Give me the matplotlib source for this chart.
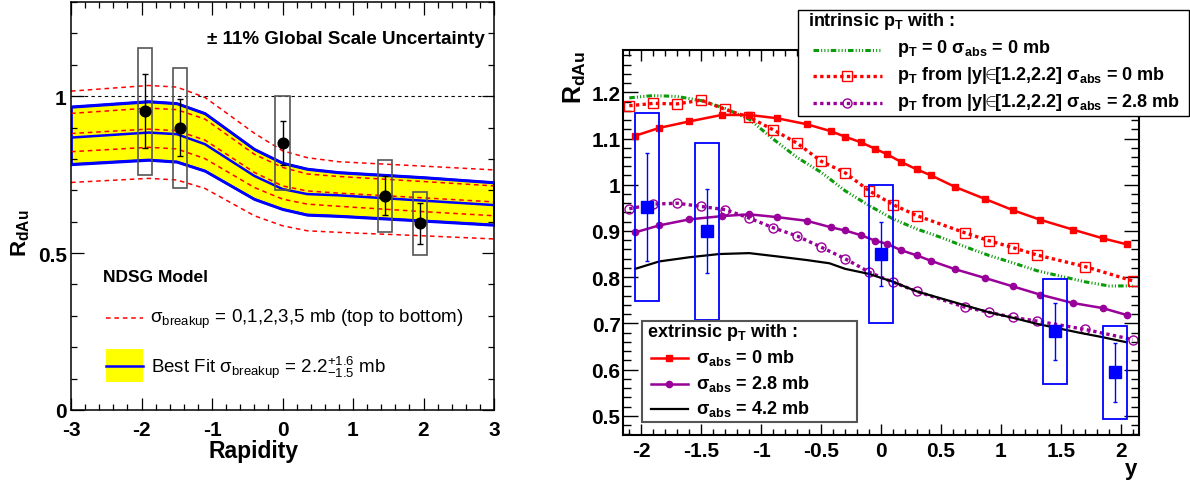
import numpy as np
import matplotlib
matplotlib.use('Agg')
import matplotlib.pyplot as plt
from matplotlib.patches import Rectangle
from matplotlib.ticker import MultipleLocator, FuncFormatter

plt.rcParams['font.family'] = ['Liberation Sans', 'DejaVu Sans']
plt.rcParams['mathtext.fontset'] = 'custom'
plt.rcParams['mathtext.rm'] = 'Liberation Sans'
plt.rcParams['mathtext.bf'] = 'Liberation Sans:bold'
plt.rcParams['mathtext.it'] = 'Liberation Sans:italic'

# measured points (shared by both panels)
y_pts = [-1.95, -1.45, 0.0, 1.45, 1.95]
r_pts = [0.952, 0.899, 0.850, 0.683, 0.595]
stat_hi = [1.069, 0.991, 0.920, 0.744, 0.658]
stat_lo = [0.835, 0.809, 0.780, 0.620, 0.530]
sys_hi = [1.155, 1.090, 1.000, 0.797, 0.694]
sys_lo = [0.749, 0.707, 0.700, 0.568, 0.494]

# left panel: NDSG model curves
lx = [-3.0, -1.9, -1.5, -1.1, -0.4, 0.0, 0.35, 0.8, 2.0, 3.0]
brk0 = [1.016, 1.034, 1.029, 0.996, 0.882, 0.826, 0.804, 0.791, 0.777, 0.765]
brk1 = [0.945, 0.962, 0.957, 0.927, 0.815, 0.773, 0.752, 0.744, 0.728, 0.714]
brk2 = [0.881, 0.895, 0.890, 0.860, 0.757, 0.714, 0.698, 0.691, 0.676, 0.663]
brk3 = [0.823, 0.837, 0.832, 0.801, 0.709, 0.672, 0.656, 0.649, 0.632, 0.619]
brk5 = [0.725, 0.738, 0.733, 0.706, 0.619, 0.587, 0.571, 0.566, 0.555, 0.545]
fit_hi = [0.966, 0.983, 0.977, 0.945, 0.831, 0.787, 0.768, 0.757, 0.741, 0.725]
fit_mid = [0.868, 0.884, 0.879, 0.847, 0.746, 0.704, 0.688, 0.684, 0.667, 0.653]
fit_lo = [0.783, 0.797, 0.791, 0.762, 0.672, 0.640, 0.622, 0.618, 0.603, 0.590]

# right panel: extrinsic pT curves
ext_x = [-2.05, -1.85, -1.6, -1.33, -1.1, -0.87, -0.62, -0.42, -0.3, -0.17, -0.05,
         0.05, 0.17, 0.3, 0.42, 0.62, 0.87, 1.1, 1.33, 1.6, 1.85, 2.05]
ext_s0 = [1.106, 1.123, 1.137, 1.151, 1.151, 1.144, 1.131, 1.116, 1.104, 1.092, 1.078,
          1.066, 1.049, 1.033, 1.020, 0.995, 0.969, 0.945, 0.924, 0.903, 0.884, 0.871]
ext_s28 = [0.897, 0.912, 0.925, 0.932, 0.936, 0.930, 0.922, 0.908, 0.901, 0.891, 0.879,
           0.872, 0.858, 0.847, 0.835, 0.817, 0.798, 0.780, 0.762, 0.744, 0.733, 0.718]
blk_x = [-2.05, -1.85, -1.6, -1.35, -1.1, -0.87, -0.62, -0.43, -0.3, -0.1, 0.1, 0.3,
         0.7, 0.9, 1.1, 1.3, 1.65, 1.85, 2.05]
ext_s42 = [0.818, 0.834, 0.843, 0.850, 0.852, 0.845, 0.837, 0.830, 0.818, 0.807, 0.790, 0.769,
           0.739, 0.724, 0.712, 0.699, 0.680, 0.670, 0.659]

# right panel: intrinsic pT curves
grn_x = [-2.1, -1.9, -1.7, -1.5, -1.3, -1.1, -0.9, -0.7, -0.5, -0.3, -0.1,
         0.1, 0.3, 0.5, 0.7, 0.9, 1.1, 1.3, 1.5, 1.7, 1.9, 2.1]
grn_y = [1.188, 1.193, 1.191, 1.182, 1.165, 1.142, 1.099, 1.059, 1.027, 0.987, 0.955,
         0.926, 0.904, 0.886, 0.866, 0.847, 0.831, 0.814, 0.802, 0.790, 0.781, 0.781]
int_x = [-2.1, -1.9, -1.7, -1.5, -1.3, -1.1, -0.9, -0.7, -0.5, -0.3, -0.1,
         0.1, 0.3, 0.7, 0.9, 1.1, 1.3, 1.7, 2.1]
int_s0 = [1.171, 1.176, 1.175, 1.183, 1.163, 1.146, 1.119, 1.090, 1.051, 1.026, 0.987,
          0.957, 0.933, 0.896, 0.879, 0.864, 0.848, 0.823, 0.792]
int_s28 = [0.948, 0.958, 0.960, 0.953, 0.946, 0.928, 0.907, 0.889, 0.865, 0.840, 0.811,
           0.789, 0.769, 0.735, 0.724, 0.713, 0.705, 0.687, 0.665]

RED = '#ff0000'
BLUE = '#0000ff'
PURP = '#990099'
GRN = '#0a9a0a'
GRN_LS = (0, (1.8, 0.7, 0.35, 0.7, 0.35, 0.7, 0.35, 0.7))

W, H = 1190, 485
fig = plt.figure(figsize=(W / 100, H / 100), dpi=100)
fmt = FuncFormatter(lambda v, p: f'{v:g}')

# ---------------- left panel
ax1 = fig.add_axes([71 / W, 1 - 411 / H, 423 / W, 408 / H])
ax1.fill_between(lx, fit_lo, fit_hi, facecolor='#ffff00', edgecolor=BLUE, lw=2, zorder=1)
for c in [brk0, brk1, brk2, brk3, brk5]:
    ax1.plot(lx, c, color=RED, lw=1.1, ls=(0, (3, 2.5)), zorder=2)
for c in [fit_hi, fit_mid, fit_lo]:
    ax1.plot(lx, c, color=BLUE, lw=1.8, zorder=3)
ax1.axhline(1.0, color='k', lw=0.8, ls=(0, (3, 3)), zorder=2.5)
for x, lo, hi in zip(y_pts, sys_lo, sys_hi):
    ax1.add_patch(Rectangle((x - 0.1, lo), 0.2, hi - lo, fill=False, ec='#555555', lw=1.2, zorder=4))
r = np.array(r_pts)
ax1.errorbar(y_pts, r, yerr=[r - np.array(stat_lo), np.array(stat_hi) - r], fmt='o', color='k',
             ms=7.7, capsize=2.5, elinewidth=1, capthick=1, zorder=5)
ax1.set_xlim(-3, 3)
ax1.set_ylim(0, 1.3)
ax1.xaxis.set_major_locator(MultipleLocator(1))
ax1.xaxis.set_minor_locator(MultipleLocator(0.2))
ax1.yaxis.set_major_locator(MultipleLocator(0.5))
ax1.yaxis.set_minor_locator(MultipleLocator(0.1))
ax1.xaxis.set_major_formatter(fmt)
ax1.yaxis.set_major_formatter(fmt)
ax1.tick_params(which='both', direction='in', top=True, right=True, width=0.9)
ax1.tick_params(which='major', length=9)
ax1.tick_params(which='minor', length=4.5)
ax1.tick_params(axis='x', pad=7)
ax1.tick_params(axis='y', pad=3)
for lab in ax1.get_xticklabels() + ax1.get_yticklabels():
    lab.set_fontsize(15)
    lab.set_fontweight('bold')
for s in ax1.spines.values():
    s.set_linewidth(1.1)

# ---------------- right panel
ax2 = fig.add_axes([623.3 / W, 1 - 435.7 / H, 515.4 / W, 384.7 / H])
ax2.plot(grn_x, grn_y, color=GRN, lw=2.2, ls=GRN_LS, zorder=2)
ax2.plot(int_x, int_s0, color=RED, lw=2.4, ls=(0, (1, 1)), marker='s', ms=6.5,
         mfc='none', mec=RED, mew=1.0, zorder=2)
ax2.plot(int_x, int_s28, color=PURP, lw=2.4, ls=(0, (1, 1)), marker='o', ms=6.5,
         mfc='none', mec=PURP, mew=1.0, zorder=2)
ax2.plot(ext_x, ext_s0, color=RED, lw=1.8, marker='s', ms=5, zorder=3)
ax2.plot(ext_x, ext_s28, color=PURP, lw=1.8, marker='o', ms=4.5, zorder=3)
ax2.plot(blk_x, ext_s42, color='k', lw=1.6, zorder=3)
for x, lo, hi in zip(y_pts, sys_lo, sys_hi):
    ax2.add_patch(Rectangle((x - 0.1, lo), 0.2, hi - lo, fill=False, ec=BLUE, lw=1.3, zorder=4))
ax2.errorbar(y_pts, r, yerr=[r - np.array(stat_lo), np.array(stat_hi) - r], fmt='s', color=BLUE,
             ms=8.4, capsize=1.5, elinewidth=1, capthick=1, zorder=5)
ax2.set_xlim(-2.15, 2.15)
ax2.set_ylim(0.459, 1.2916)
ax2.xaxis.set_major_locator(MultipleLocator(0.5))
ax2.xaxis.set_minor_locator(MultipleLocator(0.1))
ax2.yaxis.set_major_locator(MultipleLocator(0.1))
ax2.yaxis.set_minor_locator(MultipleLocator(0.02))
ax2.xaxis.set_major_formatter(fmt)
ax2.yaxis.set_major_formatter(fmt)
ax2.tick_params(which='both', direction='in', top=True, right=True, width=1.0)
ax2.tick_params(axis='y', which='major', length=10.8)
ax2.tick_params(axis='y', which='minor', length=5.5)
ax2.tick_params(axis='x', which='major', length=8)
ax2.tick_params(axis='x', which='minor', length=4.3)
ax2.tick_params(axis='x', pad=4.5)
ax2.tick_params(axis='y', pad=2)
for lab in ax2.get_xticklabels() + ax2.get_yticklabels():
    lab.set_fontsize(15)
    lab.set_fontweight('bold')
for s in ax2.spines.values():
    s.set_linewidth(1.5)

# ---------------- overlay for labels and legends (pixel coordinates)
ov = fig.add_axes([0, 0, 1, 1], zorder=10)
ov.set_xlim(0, W)
ov.set_ylim(H, 0)
ov.axis('off')

ov.text(21, 233, r'R$_\mathbf{dAu}$', rotation=90, ha='center', va='center', fontsize=16, fontweight='bold')
ov.text(253.7, 458.3, 'Rapidity', ha='center', va='baseline', fontsize=16.5, fontweight='bold')
ov.text(575, 77, r'R$_\mathbf{dAu}$', rotation=90, ha='center', va='center', fontsize=18, fontweight='bold')
ov.text(1137.3, 475, 'y', ha='right', va='baseline', fontsize=16, fontweight='bold')

# left legend
ov.text(485, 44.3, '± 11% Global Scale Uncertainty', ha='right', va='baseline', fontsize=13.5, fontweight='bold')
ov.text(103, 282, 'NDSG Model', ha='left', va='baseline', fontsize=12.5, fontweight='bold')
ov.plot([106, 142.7], [319, 319], color=RED, lw=1.1, ls=(0, (3, 2.5)))
ov.text(150, 323.3, r'σ$_\mathrm{breakup}$ = 0,1,2,3,5 mb (top to bottom)', ha='left', va='baseline', fontsize=13.5)
ov.add_patch(Rectangle((106, 350), 37.3, 33.3, facecolor='#ffff00', edgecolor='none'))
ov.plot([106, 143.3], [367, 367], color=BLUE, lw=1.8)
ov.text(150.7, 372.7, r'Best Fit σ$_\mathrm{breakup}$ = $\mathrm{2.2}^{+1.6}_{-1.5}$ mb', ha='left', va='baseline', fontsize=13.5)

# intrinsic legend
ov.add_patch(Rectangle((798.3, 10.7), 390.2, 106.6, facecolor='white', edgecolor='k', lw=1.0))
ov.text(808, 26, r'intrinsic p$_\mathbf{T}$ with :', ha='left', va='baseline', fontsize=13, fontweight='bold')
rows = [50.7, 77.3, 104]
ov.plot([813, 882], [rows[0]] * 2, color=GRN, lw=2.2, ls=GRN_LS)
ov.plot([813, 882], [rows[1]] * 2, color=RED, lw=2.4, ls=(0, (1, 1)))
ov.plot([846.7], [rows[1]], marker='s', ms=6.5, mfc='none', mec=RED, mew=1.0)
ov.plot([813, 882], [rows[2]] * 2, color=PURP, lw=2.4, ls=(0, (1, 1)))
ov.plot([846.7], [rows[2]], marker='o', ms=6.5, mfc='none', mec=PURP, mew=1.0)
int_labels = [r'p$_\mathbf{T}$ = 0 σ$_\mathbf{abs}$ = 0 mb',
              r'p$_\mathbf{T}$ from |y|$\!\!\in\!\!$[1.2,2.2] σ$_\mathbf{abs}$ = 0 mb',
              r'p$_\mathbf{T}$ from |y|$\!\!\in\!\!$[1.2,2.2] σ$_\mathbf{abs}$ = 2.8 mb']
for yy, t in zip(rows, int_labels):
    ov.text(896.7, yy + 2.7, t, ha='left', va='baseline', fontsize=13, fontweight='bold')

# extrinsic legend
ov.add_patch(Rectangle((642.3, 322), 214.4, 100.7, facecolor='white', edgecolor='#555555', lw=1.5))
ov.text(647.3, 336.7, r'extrinsic p$_\mathbf{T}$ with :', ha='left', va='baseline', fontsize=13, fontweight='bold')
erows = [359, 385, 410]
ov.plot([650.7, 687.7], [erows[0]] * 2, color=RED, lw=1.8)
ov.plot([669], [erows[0]], marker='s', ms=5, color=RED)
ov.plot([650.7, 687.7], [erows[1]] * 2, color=PURP, lw=1.8)
ov.plot([669], [erows[1]], marker='o', ms=4.5, color=PURP)
ov.plot([650.7, 687.7], [erows[2]] * 2, color='k', lw=1.6)
ext_labels = [r'σ$_\mathbf{abs}$ = 0 mb', r'σ$_\mathbf{abs}$ = 2.8 mb', r'σ$_\mathbf{abs}$ = 4.2 mb']
for yy, t in zip(erows, ext_labels):
    ov.text(695.7, yy + 4.3, t, ha='left', va='baseline', fontsize=13, fontweight='bold')

fig.savefig('out.png', dpi=100)
